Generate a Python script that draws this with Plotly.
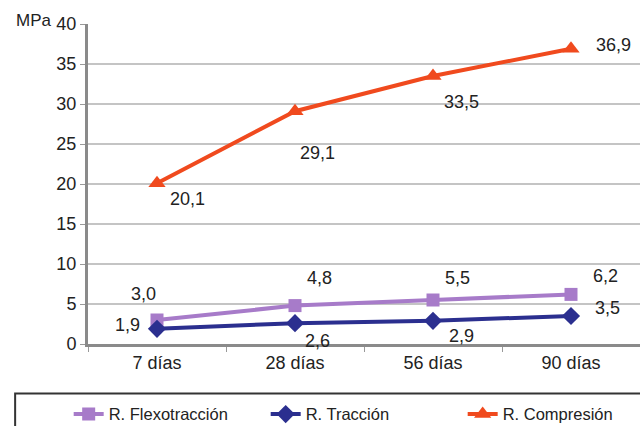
import plotly.graph_objects as go

# Strength development of the mix (MPa) by curing age
edades = ["7 días", "28 días", "56 días", "90 días"]
flexotraccion = [3.0, 4.8, 5.5, 6.2]
traccion = [1.9, 2.6, 2.9, 3.5]
compresion = [20.1, 29.1, 33.5, 36.9]
y_ticks = [0, 5, 10, 15, 20, 25, 30, 35, 40]

C_FLEX = "#A77BC9"
C_TRAC = "#2B2F8F"
C_COMP = "#F04A1E"
FONT = "Liberation Sans, Arial, sans-serif"
TXT = "#222222"

fig = go.Figure()
fig.add_trace(go.Scatter(
    x=edades, y=flexotraccion, name="R. Flexotracción", mode="lines+markers",
    line=dict(color=C_FLEX, width=4),
    marker=dict(symbol="square", size=13, color=C_FLEX)))
fig.add_trace(go.Scatter(
    x=edades, y=traccion, name="R. Tracción", mode="lines+markers",
    line=dict(color=C_TRAC, width=4),
    marker=dict(symbol="diamond", size=14, color=C_TRAC)))
fig.add_trace(go.Scatter(
    x=edades, y=compresion, name="R. Compresión", mode="lines+markers",
    line=dict(color=C_COMP, width=4),
    marker=dict(symbol="triangle-up", size=15, color=C_COMP)))

def fmt(v):
    return f"{v:.1f}".replace(".", ",")

# value labels: (series, x/y shift per point)
label_sets = [
    (flexotraccion, [(-14, 26), (24, 28), (24, 22), (34, 18)]),
    (traccion, [(-30, 4), (22, -18), (28, -15), (36, 8)]),
    (compresion, [(30, -16), (22, -42), (28, -26), (42, 4)]),
]
annotations = []
for vals, shifts in label_sets:
    for xi, v, (dx, dy) in zip(edades, vals, shifts):
        annotations.append(dict(
            x=xi, y=v, xref="x", yref="y", text=fmt(v), showarrow=False,
            xshift=dx, yshift=dy, font=dict(family=FONT, size=18, color=TXT)))

annotations.append(dict(
    x=0, y=1, xref="paper", yref="paper", text="MPa", showarrow=False,
    xanchor="right", yanchor="middle", xshift=-34, yshift=4,
    font=dict(family=FONT, size=17, color=TXT)))

# frame around the legend strip
shapes = [dict(type="rect", xref="paper", yref="paper",
               x0=-0.132, x1=1.01, y0=-0.155, y1=-0.29,
               line=dict(color="#333333", width=2), fillcolor="rgba(0,0,0,0)")]

fig.update_layout(
    width=640, height=426,
    margin=dict(l=88, r=0, t=24, b=82, autoexpand=False),
    paper_bgcolor="white", plot_bgcolor="white",
    font=dict(family=FONT, size=16, color=TXT),
    annotations=annotations,
    shapes=shapes,
    showlegend=True,
    legend=dict(
        orientation="h", x=-0.035, xanchor="left", y=-0.165, yanchor="top",
        borderwidth=0, bgcolor="rgba(0,0,0,0)",
        font=dict(family=FONT, size=16.5, color=TXT),
        entrywidth=152, entrywidthmode="pixels", itemwidth=30,
    ),
    xaxis=dict(
        type="category", showgrid=False, tickson="boundaries",
        ticks="outside", ticklen=5, tickcolor="#999",
        showline=True, linecolor="#8a8a8a", linewidth=3,
        tickfont=dict(family=FONT, size=18, color=TXT),
        range=[-0.5, 3.5],
    ),
    yaxis=dict(
        range=[0, 40], tickvals=y_ticks, showgrid=True,
        gridcolor="#c4c4c4", gridwidth=2, zeroline=False,
        ticks="outside", ticklen=5, tickcolor="#999",
        showline=True, linecolor="#8a8a8a", linewidth=3, mirror=False,
        tickfont=dict(family=FONT, size=18, color=TXT),
    ),
)

fig.write_html("out.html")
